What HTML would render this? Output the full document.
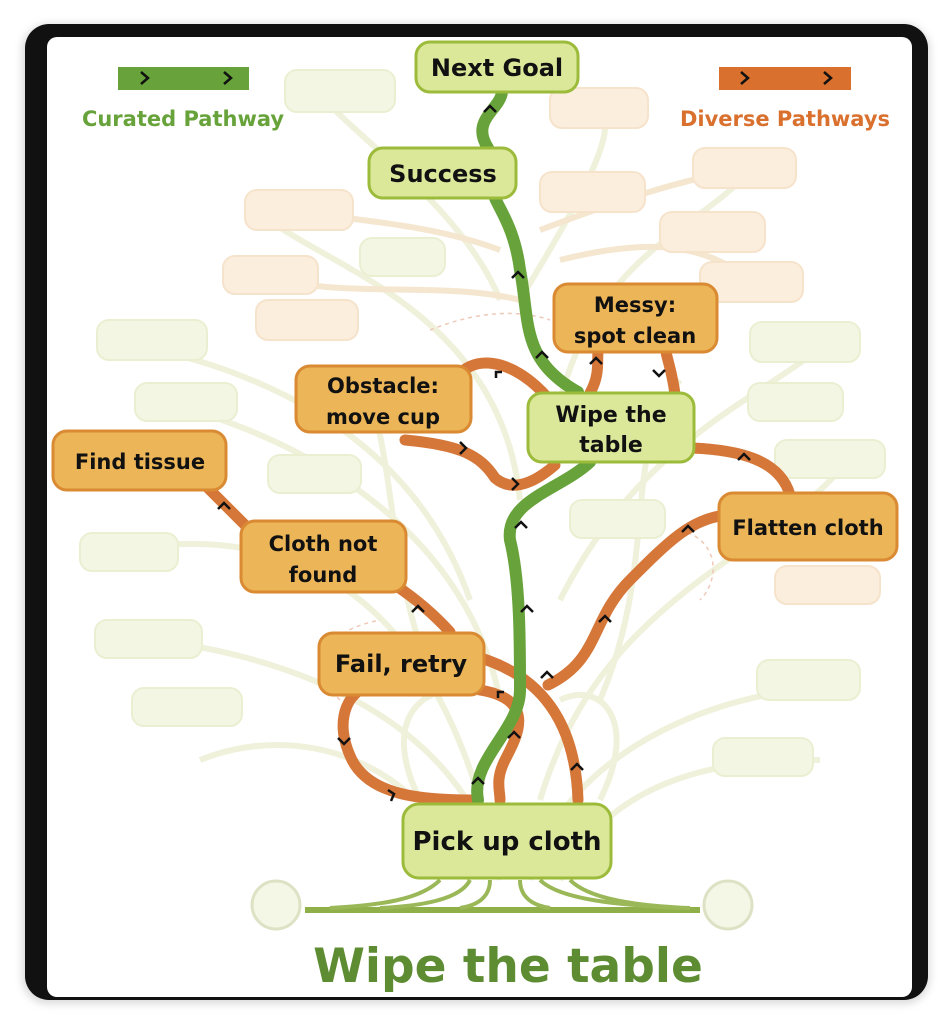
<!DOCTYPE html>
<html><head><meta charset="utf-8"><style>
html,body{margin:0;padding:0;background:#fff;}
svg{display:block;}
text{font-family:"DejaVu Sans","Liberation Sans",sans-serif;font-weight:bold;}
</style></head><body>
<svg width="952" height="1024" viewBox="0 0 952 1024" xmlns="http://www.w3.org/2000/svg">
<defs>
<filter id="sh" x="-10%" y="-10%" width="120%" height="120%"><feGaussianBlur stdDeviation="4"/></filter>
</defs>
<rect x="22" y="24" width="908" height="980" rx="26" fill="#999" opacity="0.35" filter="url(#sh)"/>
<rect x="25" y="24" width="903" height="976" rx="24" fill="#111"/>
<rect x="47" y="37" width="865" height="960" rx="10" fill="#fff"/>

<g fill="none" stroke="#eef0d8" stroke-width="6" opacity="0.9">
<path d="M470 880 C420 760 300 720 200 760"/>
<path d="M500 880 C460 700 250 650 150 640"/>
<path d="M530 880 C560 760 700 700 800 690"/>
<path d="M560 880 C620 760 760 760 820 760"/>
<path d="M480 800 C420 600 300 520 120 550"/>
<path d="M540 800 C600 600 760 560 840 470"/>
<path d="M500 700 C460 500 250 420 150 400"/>
<path d="M560 600 C640 440 760 400 830 340"/>
<path d="M470 600 C400 400 200 360 120 340"/>
<path d="M520 500 C500 300 300 260 260 210"/>
<path d="M560 400 C600 250 700 230 750 170"/>
<path d="M500 300 C460 200 330 120 320 90"/>
<path d="M520 300 C580 200 620 130 600 110"/>
<path d="M440 700 C380 560 400 450 360 380"/>
<path d="M600 700 C660 560 620 450 680 380"/>
<path d="M420 800 C380 720 420 680 480 690"/>
<path d="M600 800 C640 720 600 680 560 700"/>
</g>
<g fill="none" stroke="#f5e6cf" stroke-width="6">
<path d="M500 250 C420 220 330 220 300 210"/>
<path d="M540 230 C620 200 680 180 740 170"/>
<path d="M520 300 C440 280 330 300 270 275"/>
<path d="M560 260 C640 240 700 240 750 280"/>
</g>
<g fill="none" stroke="#efc9b8" stroke-width="1.5" stroke-dasharray="4 4">
<path d="M340 700 C300 660 330 630 380 620"/>
<path d="M430 330 C480 310 520 310 550 320"/>
<path d="M680 530 C720 540 720 580 700 600"/>
</g>
<g fill="#f4f6e4" stroke="#ebefd2" stroke-width="2">
<rect x="285" y="70" width="110" height="42" rx="12"/>
<rect x="97" y="320" width="110" height="40" rx="12"/>
<rect x="135" y="383" width="102" height="38" rx="12"/>
<rect x="268" y="455" width="93" height="38" rx="12"/>
<rect x="80" y="533" width="98" height="38" rx="12"/>
<rect x="95" y="620" width="107" height="38" rx="12"/>
<rect x="132" y="688" width="110" height="38" rx="12"/>
<rect x="360" y="238" width="85" height="38" rx="12"/>
<rect x="750" y="322" width="110" height="40" rx="12"/>
<rect x="748" y="383" width="95" height="38" rx="12"/>
<rect x="775" y="440" width="110" height="38" rx="12"/>
<rect x="570" y="500" width="95" height="38" rx="12"/>
<rect x="757" y="660" width="103" height="40" rx="12"/>
<rect x="713" y="738" width="100" height="38" rx="12"/>
</g>
<g fill="#fbeedd" stroke="#f6e3cc" stroke-width="2">
<rect x="550" y="88" width="98" height="40" rx="12"/>
<rect x="693" y="148" width="103" height="40" rx="12"/>
<rect x="540" y="172" width="105" height="40" rx="12"/>
<rect x="245" y="190" width="108" height="40" rx="12"/>
<rect x="660" y="212" width="105" height="40" rx="12"/>
<rect x="223" y="256" width="95" height="38" rx="12"/>
<rect x="700" y="262" width="103" height="40" rx="12"/>
<rect x="256" y="300" width="102" height="40" rx="12"/>
<rect x="775" y="566" width="105" height="38" rx="12"/>
</g>

<path d="M305 910 L700 910" stroke="#8fb048" stroke-width="6"/>
<path d="M440 880 C420 900 380 905 330 908 M470 880 C460 900 420 906 380 908 M540 880 C560 900 620 905 680 908 M570 880 C590 900 640 906 690 908 M490 880 C490 895 480 905 460 908 M520 880 C520 895 530 905 550 908" stroke="#9bb858" stroke-width="4" fill="none"/>
<circle cx="276" cy="905" r="24" fill="#f4f6e6" stroke="#dde2c4" stroke-width="3"/>
<circle cx="728" cy="905" r="24" fill="#f4f6e6" stroke="#dde2c4" stroke-width="3"/>

<g fill="none" stroke="#d6773a" stroke-width="11" stroke-linecap="round">
<path d="M470 800 C420 800 370 795 352 760 C335 725 345 700 360 690"/>
<path d="M480 690 C540 700 515 740 505 760 C495 780 500 790 500 800"/>
<path d="M470 655 C530 670 575 710 578 800"/>
<path d="M548 685 C600 660 590 620 630 580 C670 540 690 520 725 515"/>
<path d="M450 632 C430 610 410 595 395 585"/>
<path d="M250 530 C230 510 215 495 205 485"/>
<path d="M455 380 C470 355 510 355 548 398"/>
<path d="M405 440 C460 445 480 455 495 478 C515 495 540 478 555 465"/>
<path d="M692 448 C740 450 780 460 790 495"/>
<path d="M590 393 C600 375 597 362 598 352"/>
<path d="M675 394 C672 372 668 362 666 352"/>
</g>
<g fill="none" stroke="#67a33a" stroke-width="12" stroke-linecap="round">
<path d="M478 800 C470 760 520 730 520 690 C520 640 520 580 510 540 C505 500 560 490 590 462"/>
<path d="M578 392 C520 360 530 320 520 270 C515 230 500 210 495 198"/>
<path d="M488 148 C470 120 500 110 502 92"/>
</g>
<g fill="none" stroke="#111" stroke-width="2.5">
<path d="M484 112 l6 -6 l6 6"/><path d="M512 278 l6 -6 l6 6"/><path d="M536 358 l6 -6 l6 6"/>
<path d="M515 528 l6 -6 l6 6"/><path d="M521 612 l6 -6 l6 6"/><path d="M541 678 l6 -6 l6 6"/>
<path d="M508 738 l6 -6 l6 6"/><path d="M472 784 l6 -6 l6 6"/><path d="M571 770 l6 -6 l6 6"/>
<path d="M599 622 l6 -6 l6 6"/><path d="M682 532 l6 -6 l6 6"/><path d="M738 460 l6 -6 l6 6"/>
<path d="M590 364 l6 -6 l6 6"/><path d="M653 370 l6 6 l6 -6"/>
<path d="M412 612 l6 -6 l6 6"/><path d="M218 509 l6 -6 l6 6"/><path d="M338 738 l6 6 l6 -6"/>
<path d="M388 790 l6 4 l-3 7"/><path d="M460 442 l6 6 l-6 6"/><path d="M512 478 l6 6 l-6 6"/>
<path d="M498 698 l0 -6 l6 0"/><path d="M496 378 l0 -6 l6 0"/>
</g>

<rect x="118" y="67" width="131" height="23" fill="#67a33a"/>
<path d="M141 72 l7 6 l-7 6 M224 72 l7 6 l-7 6" stroke="#111" stroke-width="2.5" fill="none"/>
<text x="183" y="126" font-size="21" fill="#67a33a" text-anchor="middle">Curated Pathway</text>
<rect x="719" y="67" width="132" height="23" fill="#d9702e"/>
<path d="M741 72 l7 6 l-7 6 M824 72 l7 6 l-7 6" stroke="#111" stroke-width="2.5" fill="none"/>
<text x="785" y="126" font-size="21" fill="#d9702e" text-anchor="middle">Diverse Pathways</text>

<g fill="#dbe89a" stroke="#9cbb3a" stroke-width="3">
<rect x="416" y="42" width="162" height="50" rx="14"/>
<rect x="369" y="148" width="147" height="50" rx="14"/>
<rect x="528" y="393" width="166" height="69" rx="14"/>
<rect x="403" y="804" width="208" height="74" rx="16"/>
</g>
<g fill="#ecb658" stroke="#d98a32" stroke-width="3">
<rect x="554" y="284" width="163" height="68" rx="14"/>
<rect x="296" y="366" width="175" height="66" rx="14"/>
<rect x="53" y="431" width="173" height="59" rx="14"/>
<rect x="241" y="521" width="165" height="71" rx="14"/>
<rect x="319" y="633" width="165" height="62" rx="14"/>
<rect x="719" y="493" width="178" height="67" rx="14"/>
</g>
<g fill="#111" text-anchor="middle">
<text x="497" y="76" font-size="24">Next Goal</text>
<text x="443" y="182" font-size="24">Success</text>
<text x="611" y="422" font-size="22">Wipe the</text>
<text x="611" y="452" font-size="22">table</text>
<text x="507" y="850" font-size="26">Pick up cloth</text>
<text x="635" y="312" font-size="21">Messy:</text>
<text x="635" y="343" font-size="21">spot clean</text>
<text x="383" y="393" font-size="21">Obstacle:</text>
<text x="383" y="424" font-size="21">move cup</text>
<text x="140" y="469" font-size="21">Find tissue</text>
<text x="323" y="551" font-size="21">Cloth not</text>
<text x="323" y="582" font-size="21">found</text>
<text x="401" y="672" font-size="24">Fail, retry</text>
<text x="808" y="535" font-size="21">Flatten cloth</text>
</g>
<text x="508" y="982" font-size="47" fill="#5d8c32" text-anchor="middle">Wipe the table</text>
</svg>
</body></html>
